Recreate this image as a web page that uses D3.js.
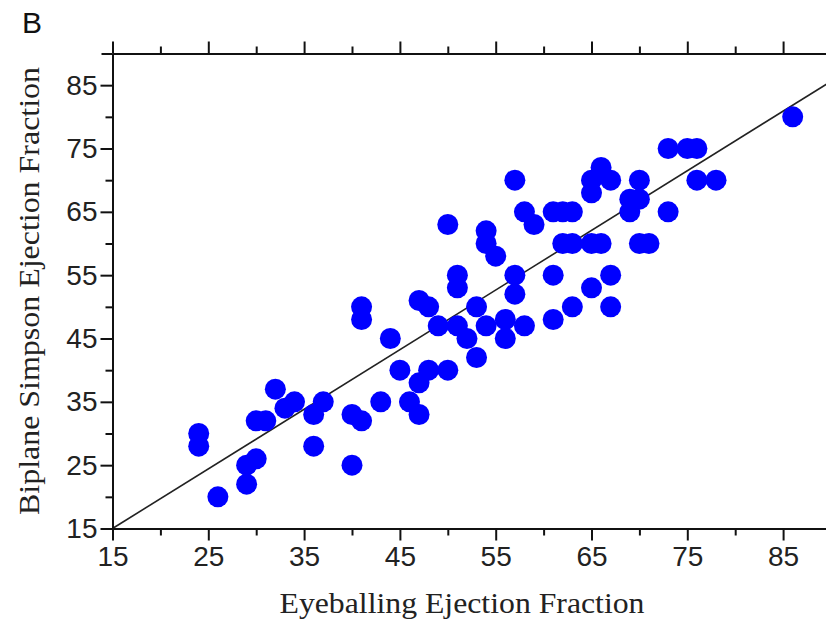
<html>
<head>
<script src="https://d3js.org/d3.v7.min.js"></script>
<style>
body { margin: 0; background: #fff; }
svg { display: block; }
.axis path, .axis line { stroke: #111; stroke-width: 2px; }
.tick text { font-family: 'Liberation Sans', Arial, sans-serif; font-size: 28px; fill: #222; }
.title { font-family: 'Liberation Serif', 'Times New Roman', serif; font-size: 29px; fill: #222; }
</style>
</head>
<body>
<svg></svg>
<script>

// Eyeballing EF (x) and biplane Simpson EF (y), one entry per patient
var eyeballEF = [24, 24, 26, 29, 30, 29, 30, 31, 32, 33, 34, 36, 37, 36, 40, 40, 41, 43, 44, 45,
	41, 41, 46, 47, 47, 48, 50, 47, 48, 49, 51, 52, 53, 53, 54, 56, 56, 58, 61, 50,
	54, 54, 55, 51, 51, 57, 57, 57, 58, 59, 61, 62, 63, 62, 63, 65, 66, 70, 71, 61,
	67, 65, 63, 67, 65, 66, 67, 65, 70, 69, 70, 69, 73, 73, 75, 76, 76, 78, 86];
var simpsonEF = [30, 28, 20, 25, 26, 22, 32, 32, 37, 34, 35, 33, 35, 28, 25, 33, 32, 35, 45, 40,
	50, 48, 35, 38, 33, 40, 40, 51, 50, 47, 47, 45, 42, 50, 47, 48, 45, 47, 48, 63,
	62, 60, 58, 55, 53, 55, 52, 70, 65, 63, 65, 65, 65, 60, 60, 60, 60, 60, 60, 55,
	55, 53, 50, 50, 70, 72, 70, 68, 70, 67, 67, 65, 65, 75, 75, 75, 70, 70, 80];

// reference line drawn on the plot
var lineX = [15, 90];
var lineY = [15, 85.6];

var majorTicks = [15, 25, 35, 45, 55, 65, 75, 85];
var minorTicks = [20, 30, 40, 50, 60, 70, 80, 90];

var width = 826;
var height = 622;

var svg = d3.select("svg").attr("width", width).attr("height", height);

var xScale = d3.scaleLinear().domain([15, 90]).range([112.5, 831]);
var yScale = d3.scaleLinear().domain([15, 90]).range([528.5, 53.5]);

var points = eyeballEF.map(function (d, i) { return { x: d, y: simpsonEF[i] }; });

// diagonal line
svg.append("line")
	.attr("x1", xScale(lineX[0])).attr("y1", yScale(lineY[0]))
	.attr("x2", xScale(lineX[1])).attr("y2", yScale(lineY[1]))
	.style("stroke", "#222")
	.style("stroke-width", 1.6);

svg.selectAll("circle.point").data(points)
	.enter().append("circle").attr("class", "point")
	.attr("cx", function (d) { return xScale(d.x); })
	.attr("cy", function (d) { return yScale(d.y); })
	.attr("r", 10.5)
	.style("fill", "#0000ff");

// axes: major ticks carry labels, minor ticks are shorter
function drawAxis(axisFn, scale, transform, labelled) {
	svg.append("g").attr("class", "axis").attr("transform", transform)
		.call(axisFn(scale).tickValues(minorTicks).tickSize(7).tickSizeOuter(0).tickFormat(""));
	var g = svg.append("g").attr("class", "axis").attr("transform", transform)
		.call(axisFn(scale).tickValues(majorTicks).tickSize(12).tickSizeOuter(0)
			.tickPadding(labelled ? 6 : 0)
			.tickFormat(labelled ? d3.format("d") : ""));
	return g;
}

drawAxis(d3.axisBottom, xScale, "translate(0," + yScale(15) + ")", true);
drawAxis(d3.axisTop, xScale, "translate(0," + yScale(90) + ")", false);
var leftAxis = drawAxis(d3.axisLeft, yScale, "translate(" + xScale(15) + ",0)", true);
svg.append("g").attr("class", "axis").attr("transform", "translate(" + xScale(15) + ",0)")
	.call(d3.axisLeft(yScale).tickValues([90]).tickSize(11).tickSizeOuter(0).tickFormat(""));

leftAxis.selectAll(".tick text").attr("x", -15);

svg.append("text").attr("class", "title")
	.attr("x", 462).attr("y", 613)
	.attr("text-anchor", "middle")
	.attr("textLength", 365).attr("lengthAdjust", "spacingAndGlyphs")
	.text("Eyeballing Ejection Fraction");

svg.append("text").attr("class", "title")
	.attr("transform", "translate(39,291) rotate(-90)")
	.attr("text-anchor", "middle")
	.attr("textLength", 448).attr("lengthAdjust", "spacingAndGlyphs")
	.text("Biplane Simpson Ejection Fraction");

svg.append("text")
	.attr("x", 22).attr("y", 33)
	.style("font-family", "'Liberation Sans', Arial, sans-serif")
	.style("font-size", "30px")
	.style("fill", "#111")
	.text("B");

</script>
</body>
</html>
